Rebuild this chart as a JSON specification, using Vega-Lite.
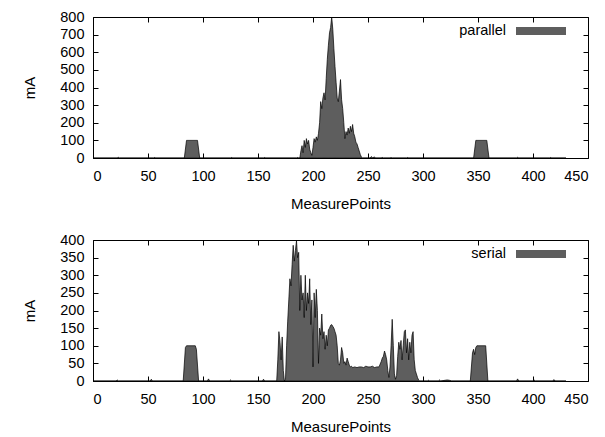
{
  "$schema": "https://vega.github.io/schema/vega-lite/v6.json",
  "background": "white",
  "padding": {"left": 22, "top": 5, "right": 12, "bottom": 3},
  "spacing": 16,
  "config": {
    "font": "Liberation Sans",
    "view": {"stroke": "black", "strokeWidth": 1},
    "axis": {
      "grid": false, "domain": false, "tickColor": "black", "tickWidth": 1, "tickSize": 5, "offset": -5,
      "labelColor": "black", "titleColor": "black", "labelFont": "Liberation Sans", "titleFont": "Liberation Sans",
      "labelFontSize": 14.5, "titleFontSize": 15, "titleFontWeight": "normal"
    },
    "legend": {"labelFont": "Liberation Sans", "labelFontSize": 14.5, "labelColor": "black"}
  },
  "datasets": {
    "par": [
      {"p":0,"v":0},{"p":22,"v":0},{"p":23,"v":4},{"p":24,"v":0},{"p":55,"v":0},{"p":56,"v":3},{"p":57,"v":0},
      {"p":83,"v":0},{"p":85,"v":100},{"p":95,"v":100},{"p":97,"v":0},
      {"p":125,"v":0},{"p":126,"v":3},{"p":127,"v":0},{"p":155,"v":0},{"p":156,"v":3},{"p":157,"v":0},{"p":185,"v":0},{"p":186,"v":3},{"p":187,"v":0},
      {"p":188,"v":0},{"p":189,"v":40},{"p":190,"v":70},{"p":191,"v":30},{"p":192,"v":100},{"p":193,"v":60},{"p":194,"v":110},{"p":195,"v":80},{"p":196,"v":100},{"p":197,"v":50},{"p":198,"v":30},{"p":199,"v":15},
      {"p":200,"v":60},{"p":201,"v":110},{"p":202,"v":90},{"p":203,"v":120},{"p":204,"v":100},{"p":205,"v":140},{"p":206,"v":200},{"p":207,"v":320},{"p":208,"v":280},{"p":209,"v":340},
      {"p":210,"v":370},{"p":211,"v":330},{"p":212,"v":450},{"p":213,"v":560},{"p":214,"v":640},{"p":215,"v":710},{"p":216,"v":740},{"p":217,"v":800},{"p":218,"v":730},{"p":219,"v":620},
      {"p":220,"v":520},{"p":221,"v":430},{"p":222,"v":340},{"p":223,"v":320},{"p":224,"v":380},{"p":225,"v":445},{"p":226,"v":330},{"p":227,"v":280},{"p":228,"v":200},{"p":229,"v":110},
      {"p":230,"v":150},{"p":231,"v":130},{"p":232,"v":170},{"p":233,"v":140},{"p":234,"v":180},{"p":235,"v":150},{"p":236,"v":190},{"p":237,"v":140},{"p":238,"v":120},{"p":239,"v":90},
      {"p":240,"v":80},{"p":241,"v":60},{"p":242,"v":40},{"p":243,"v":20},{"p":244,"v":5},{"p":245,"v":0},
      {"p":252,"v":0},{"p":253,"v":8},{"p":254,"v":2},{"p":256,"v":5},{"p":257,"v":0},{"p":262,"v":0},{"p":263,"v":3},{"p":264,"v":0},{"p":270,"v":0},{"p":271,"v":2},{"p":272,"v":0},{"p":285,"v":0},{"p":286,"v":3},{"p":287,"v":0},
      {"p":346,"v":0},{"p":348,"v":100},{"p":358,"v":100},{"p":360,"v":0},
      {"p":385,"v":0},{"p":386,"v":4},{"p":387,"v":0},{"p":415,"v":0},{"p":416,"v":3},{"p":417,"v":0},{"p":430,"v":0}
    ],
    "ser": [
      {"p":0,"v":0},{"p":21,"v":0},{"p":22,"v":3},{"p":23,"v":0},{"p":52,"v":0},{"p":53,"v":5},{"p":54,"v":0},
      {"p":82,"v":0},{"p":84,"v":95},{"p":85,"v":100},{"p":93,"v":100},{"p":94,"v":90},{"p":96,"v":0},
      {"p":104,"v":0},{"p":105,"v":6},{"p":106,"v":0},{"p":124,"v":0},{"p":125,"v":3},{"p":126,"v":0},{"p":154,"v":0},{"p":155,"v":5},{"p":156,"v":0},
      {"p":167,"v":0},{"p":168,"v":60},{"p":169,"v":140},{"p":170,"v":110},{"p":171,"v":60},{"p":172,"v":125},{"p":173,"v":30},{"p":174,"v":0},{"p":175,"v":5},{"p":176,"v":100},
      {"p":177,"v":170},{"p":178,"v":230},{"p":179,"v":290},{"p":180,"v":270},{"p":181,"v":330},{"p":182,"v":385},{"p":183,"v":340},{"p":184,"v":370},{"p":185,"v":398},{"p":186,"v":350},
      {"p":187,"v":365},{"p":188,"v":200},{"p":189,"v":300},{"p":190,"v":230},{"p":191,"v":250},{"p":192,"v":180},{"p":193,"v":300},{"p":194,"v":200},{"p":195,"v":250},{"p":196,"v":220},
      {"p":197,"v":290},{"p":198,"v":160},{"p":199,"v":230},{"p":200,"v":40},{"p":201,"v":250},{"p":202,"v":180},{"p":203,"v":260},{"p":204,"v":200},{"p":205,"v":50},{"p":206,"v":150},
      {"p":207,"v":130},{"p":208,"v":190},{"p":209,"v":120},{"p":210,"v":140},{"p":211,"v":90},{"p":212,"v":130},{"p":213,"v":100},{"p":214,"v":145},{"p":215,"v":150},{"p":216,"v":158},
      {"p":217,"v":160},{"p":218,"v":155},{"p":219,"v":150},{"p":220,"v":140},{"p":221,"v":130},{"p":222,"v":100},{"p":223,"v":50},{"p":224,"v":45},{"p":225,"v":60},{"p":226,"v":95},
      {"p":227,"v":80},{"p":228,"v":50},{"p":229,"v":55},{"p":230,"v":45},{"p":231,"v":65},{"p":232,"v":55},{"p":233,"v":45},{"p":234,"v":40},{"p":235,"v":42},{"p":236,"v":38},
      {"p":238,"v":40},{"p":240,"v":38},{"p":242,"v":40},{"p":244,"v":40},{"p":246,"v":38},{"p":248,"v":42},{"p":250,"v":40},{"p":252,"v":40},{"p":254,"v":42},{"p":256,"v":38},{"p":258,"v":40},{"p":260,"v":40},
      {"p":262,"v":55},{"p":263,"v":65},{"p":264,"v":70},{"p":265,"v":85},{"p":266,"v":75},{"p":267,"v":60},{"p":268,"v":30},{"p":269,"v":10},{"p":270,"v":40},{"p":271,"v":100},
      {"p":272,"v":175},{"p":273,"v":100},{"p":274,"v":20},{"p":275,"v":5},{"p":276,"v":15},{"p":277,"v":70},{"p":278,"v":110},{"p":279,"v":90},{"p":280,"v":115},{"p":281,"v":60},
      {"p":282,"v":100},{"p":283,"v":140},{"p":284,"v":145},{"p":285,"v":80},{"p":286,"v":120},{"p":287,"v":60},{"p":288,"v":110},{"p":289,"v":80},{"p":290,"v":130},{"p":291,"v":140},
      {"p":292,"v":60},{"p":293,"v":30},{"p":294,"v":20},{"p":295,"v":10},{"p":296,"v":3},{"p":297,"v":0},
      {"p":304,"v":0},{"p":305,"v":2},{"p":306,"v":0},{"p":314,"v":0},{"p":315,"v":3},{"p":316,"v":0},{"p":320,"v":2},{"p":322,"v":3},{"p":324,"v":2},{"p":326,"v":0},
      {"p":343,"v":0},{"p":345,"v":80},{"p":346,"v":90},{"p":347,"v":75},{"p":348,"v":95},{"p":349,"v":100},{"p":357,"v":100},{"p":359,"v":0},
      {"p":385,"v":0},{"p":386,"v":6},{"p":387,"v":0},{"p":400,"v":0},{"p":401,"v":3},{"p":402,"v":0},{"p":418,"v":0},{"p":419,"v":4},{"p":420,"v":0},{"p":430,"v":0}
    ]
  },
  "resolve": {"scale": {"color": "independent"}, "legend": {"color": "independent"}},
  "vconcat": [
    {
      "width": 495, "height": 141,
      "data": {"name": "par"},
      "layer": [
        {
          "mark": {"type": "area", "interpolate": "linear", "stroke": "black", "strokeWidth": 0.7, "fillOpacity": 1},
          "encoding": {
            "x": {"field": "p", "type": "quantitative", "scale": {"domain": [0, 450], "nice": false, "zero": false},
              "axis": {"orient": "bottom", "values": [0,50,100,150,200,250,300,350,400,450], "title": "MeasurePoints", "labelPadding": 11, "titlePadding": 14}},
            "y": {"field": "v", "type": "quantitative", "scale": {"domain": [0, 800], "nice": false},
              "axis": {"orient": "left", "values": [0,100,200,300,400,500,600,700,800], "title": "mA", "labelPadding": 9, "titlePadding": 22}},
            "color": {"datum": "parallel", "scale": {"domain": ["parallel"], "range": ["#5e5e5e"]},
              "legend": {"title": null, "orient": "none", "legendX": 423, "legendY": -11, "padding": 0, "symbolType": "M-1,-0.16H1V0.16H-1Z", "symbolSize": 2500, "symbolStrokeWidth": 0, "symbolOpacity": 1, "labelAlign": "right", "labelOffset": -60}}
          }
        },
        {
          "mark": {"type": "area", "opacity": 0},
          "encoding": {
            "x": {"field": "p", "type": "quantitative", "scale": {"domain": [0, 450], "nice": false, "zero": false}, "axis": {"orient": "top", "values": [0,50,100,150,200,250,300,350,400,450], "labels": false, "title": null}},
            "y": {"field": "v", "type": "quantitative", "scale": {"domain": [0, 800], "nice": false}, "axis": {"orient": "right", "values": [0,100,200,300,400,500,600,700,800], "labels": false, "title": null}}
          }
        }
      ]
    },
    {
      "width": 495, "height": 141,
      "data": {"name": "ser"},
      "layer": [
        {
          "mark": {"type": "area", "interpolate": "linear", "stroke": "black", "strokeWidth": 0.7, "fillOpacity": 1},
          "encoding": {
            "x": {"field": "p", "type": "quantitative", "scale": {"domain": [0, 450], "nice": false, "zero": false},
              "axis": {"orient": "bottom", "values": [0,50,100,150,200,250,300,350,400,450], "title": "MeasurePoints", "labelPadding": 11, "titlePadding": 14}},
            "y": {"field": "v", "type": "quantitative", "scale": {"domain": [0, 400], "nice": false},
              "axis": {"orient": "left", "values": [0,50,100,150,200,250,300,350,400], "title": "mA", "labelPadding": 9, "titlePadding": 22}},
            "color": {"datum": "serial", "scale": {"domain": ["serial"], "range": ["#5e5e5e"]},
              "legend": {"title": null, "orient": "none", "legendX": 423, "legendY": -11, "padding": 0, "symbolType": "M-1,-0.16H1V0.16H-1Z", "symbolSize": 2500, "symbolStrokeWidth": 0, "symbolOpacity": 1, "labelAlign": "right", "labelOffset": -60}}
          }
        },
        {
          "mark": {"type": "area", "opacity": 0},
          "encoding": {
            "x": {"field": "p", "type": "quantitative", "scale": {"domain": [0, 450], "nice": false, "zero": false}, "axis": {"orient": "top", "values": [0,50,100,150,200,250,300,350,400,450], "labels": false, "title": null}},
            "y": {"field": "v", "type": "quantitative", "scale": {"domain": [0, 400], "nice": false}, "axis": {"orient": "right", "values": [0,50,100,150,200,250,300,350,400], "labels": false, "title": null}}
          }
        }
      ]
    }
  ]
}
